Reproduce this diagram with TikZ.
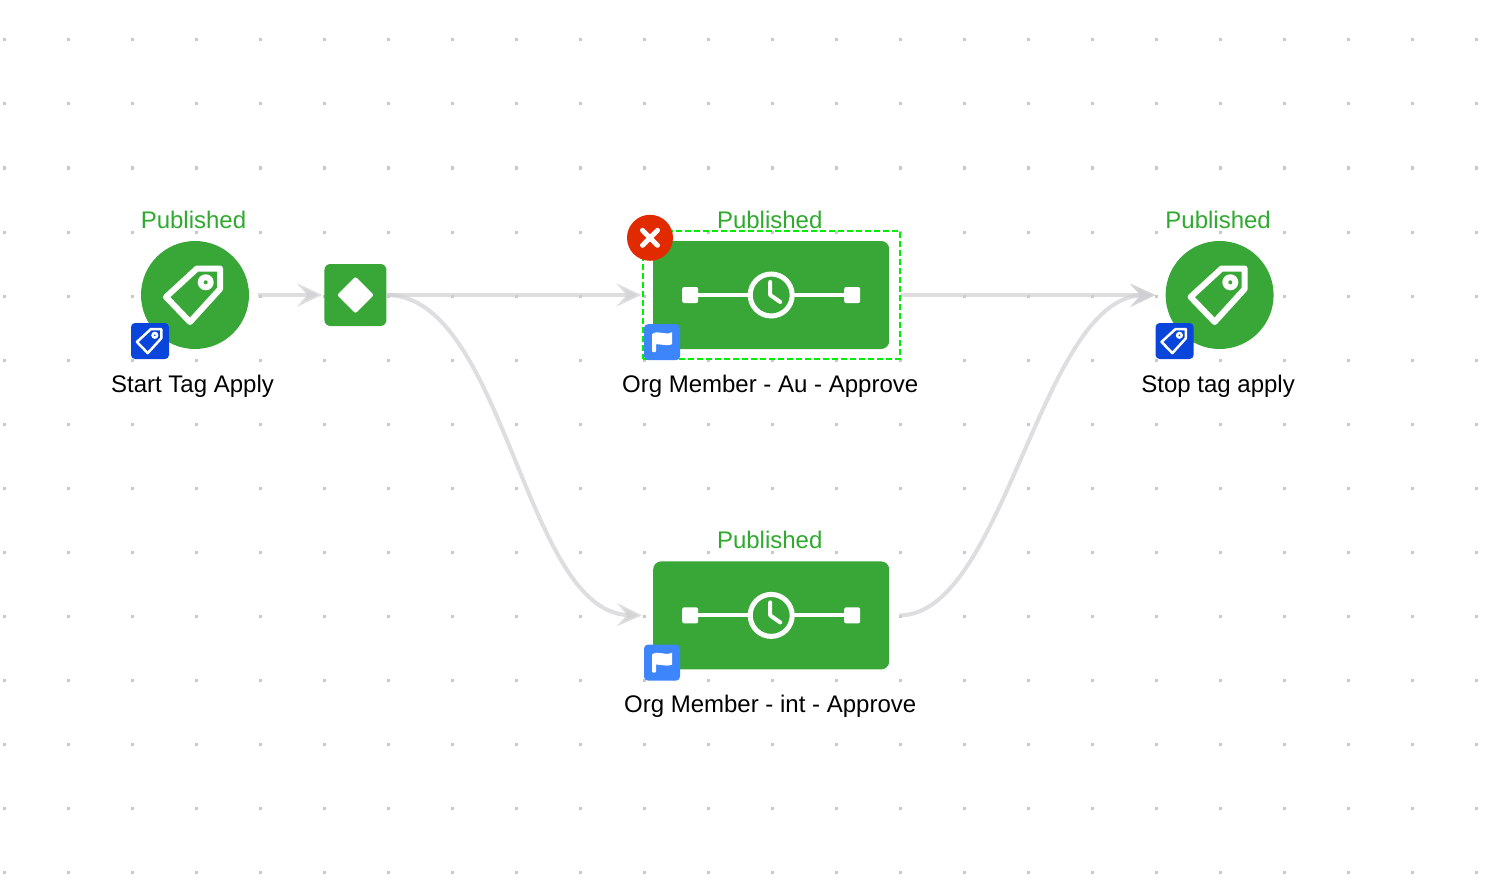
\documentclass[tikz,border=0pt]{standalone}
\usepackage{xcolor}
\usepackage{fontspec}
\setmainfont{Liberation Sans}
\usetikzlibrary{arrows.meta, positioning, calc}
\definecolor{leaf}{HTML}{38A737}
\definecolor{leaftext}{HTML}{2FAA2F}
\definecolor{wire}{HTML}{D0D0D4}
\definecolor{griddot}{HTML}{C8C8CC}
\definecolor{tagblue}{HTML}{0A45DB}
\definecolor{flagblue}{HTML}{3D85FB}
\definecolor{alert}{HTML}{E12A00}
\definecolor{lime}{HTML}{00EE00}
\tikzset{
  tagRound/.style = {circle, fill=leaf, minimum size=108pt, inner sep=0pt},
  gateBox/.style = {rectangle, rounded corners=6pt, fill=leaf, minimum size=62pt, inner sep=0pt},
  taskBox/.style = {rectangle, rounded corners=8pt, fill=leaf, minimum width=236pt,
    minimum height=108pt, inner sep=0pt},
  selBox/.style = {rectangle, draw=lime, line width=2pt, dash pattern=on 6pt off 3pt,
    minimum width=257pt, minimum height=128pt, inner sep=0pt},
  closeBtn/.style = {circle, fill=alert, minimum size=46pt, inner sep=0pt},
  tagBadge/.style = {rectangle, rounded corners=4pt, fill=tagblue, minimum width=38pt,
    minimum height=36pt, inner sep=0pt},
  flagBadge/.style = {rectangle, rounded corners=4pt, fill=flagblue, minimum size=36pt, inner sep=0pt},
  statusText/.style = {text=leaftext, font=\fontsize{24}{28}\selectfont, inner sep=0pt,
    text height=17pt, text depth=0pt},
  nameText/.style = {text=black, font=\fontsize{24}{28}\selectfont, inner sep=0pt,
    text height=17pt, text depth=5pt},
  flow/.style = {-{Stealth[length=25pt, width=23pt, inset=10pt]}, line width=4pt, draw=wire, opacity=.7},
  pics/tagicon/.style 2 args = {code = {
    \draw[white, line width=#1pt, line join=round]
      (25,-26.5) -- (2,-26.5) -- (-29,2) -- (-5,27) -- (25,-6) -- cycle;
    \fill[white] (10.7,-12.7) circle (8);
    \fill[#2] (10.7,-12.7) circle (2);
  }},
  pics/clockicon/.style = {code = {
    \draw[white, line width=4pt] (-74,0) -- (-23,0) (23,0) -- (74,0);
    \fill[white, rounded corners=2pt] (-89,-8) rectangle (-73,8) (73,-8) rectangle (89,8);
    \draw[white, line width=5pt] (0,0) circle (21);
    \draw[white, line width=4pt, line cap=round, line join=round] (-1,-13) -- (-1,0) -- (9,7);
  }},
  pics/flagicon/.style = {code = {
    \fill[white, rounded corners=1pt] (-10,-8) rectangle (-6,10);
    \fill[white] (-10,-8) .. controls (-4,-13) and (3,-6) .. (10,-10) -- (10,2)
      .. controls (3,5) and (-3,0) .. (-10,3) -- cycle;
  }},
}
\begin{document}
\begin{tikzpicture}[x=1pt, y=-1pt]

\useasboundingbox (0,0) rectangle (1502,888);
\fill[white] (0,0) rectangle (1502,888);

% dotted canvas
\foreach \col in {4,68,...,1476}
  \foreach \row in {40,104,...,872}
    \fill[griddot] (\col-1.5,\row-1.5) rectangle (\col+1.5,\row+1.5);

\node[tagRound] (n1) at (195,295) {};
\node[gateBox, right=75pt of n1] (n2) {};
\node[taskBox, right=267pt of n2, xshift=-.6pt] (n3) {};
\node[tagRound, right=276pt of n3] (n5) {};
\node[taskBox, below=212pt of n3] (n4) {};
\node[selBox] (n3sel) at ($(n3)+(.5,0)$) {};

\node[statusText, above=12pt of n1, xshift=-1.5pt] (s1) {Published};
\node[statusText, above=12pt of n3, xshift=-1.5pt] (s3) {Published};
\node[statusText, above=13pt of n4, xshift=-1.5pt] (s4) {Published};
\node[statusText, above=12pt of n5, xshift=-1.5pt] (s5) {Published};
\node[nameText, below=26pt of n1, xshift=-2.5pt] (t1) {Start Tag Apply};
\node[nameText, below=26pt of n3, xshift=-1pt] (t3) {Org Member - Au - Approve};
\node[nameText, below=26pt of n4, xshift=-1pt] (t4) {Org Member - int - Approve};
\node[nameText, below=26pt of n5, xshift=-1.5pt] (t5) {Stop tag apply};

\pic at (n1) {tagicon={6}{leaf}};
\pic at (n5) {tagicon={6}{leaf}};
\pic at (n3) {clockicon};
\pic at (n4) {clockicon};
\fill[white, rounded corners=2pt, rotate around={45:(n2)}] ($(n2)+(-13,-13)$) rectangle ($(n2)+(13,13)$);

\node[tagBadge] (b1) at ($(n1)+(-45,46)$) {};
\node[tagBadge] (b5) at ($(n5)+(-45,46)$) {};
\node[flagBadge] (b3) at ($(n3.south west)+(9,-7)$) {};
\node[flagBadge] (b4) at ($(n4.south west)+(9,-7)$) {};
\pic[scale=.45] at (b1) {tagicon={2.5}{tagblue}};
\pic[scale=.45] at (b5) {tagicon={2.5}{tagblue}};
\pic at (b3) {flagicon};
\pic at (b4) {flagicon};

\node[closeBtn] (x3) at ($(n3.north west)+(-3,-3)$) {};
\draw[white, line width=5pt, line cap=round] ($(x3)+(-7.5,-7.5)$) -- ($(x3)+(7.5,7.5)$);
\draw[white, line width=5pt, line cap=round] ($(x3)+(-7.5,7.5)$) -- ($(x3)+(7.5,-7.5)$);

\coordinate (n4in) at ($(n4.west)+(-11,0)$);
\coordinate (n4out) at ($(n4.east)+(10,0)$);
\coordinate (n5in) at ($(n5.west)+(-10,0)$);

\draw[flow, shorten <=9pt, shorten >=2pt] (n1) -- (n2);
\draw[flow, shorten >=11.5pt] (n2) -- (n3);
\draw[flow] (n2.east) .. controls +(118,0) and +(-118,-3) .. (n4in);
\draw[flow, shorten >=10pt] (n3sel.east) -- (n5);
\draw[flow] (n4out) .. controls +(105,0) and +(-115,3) .. (n5in);

\end{tikzpicture}
\end{document}
